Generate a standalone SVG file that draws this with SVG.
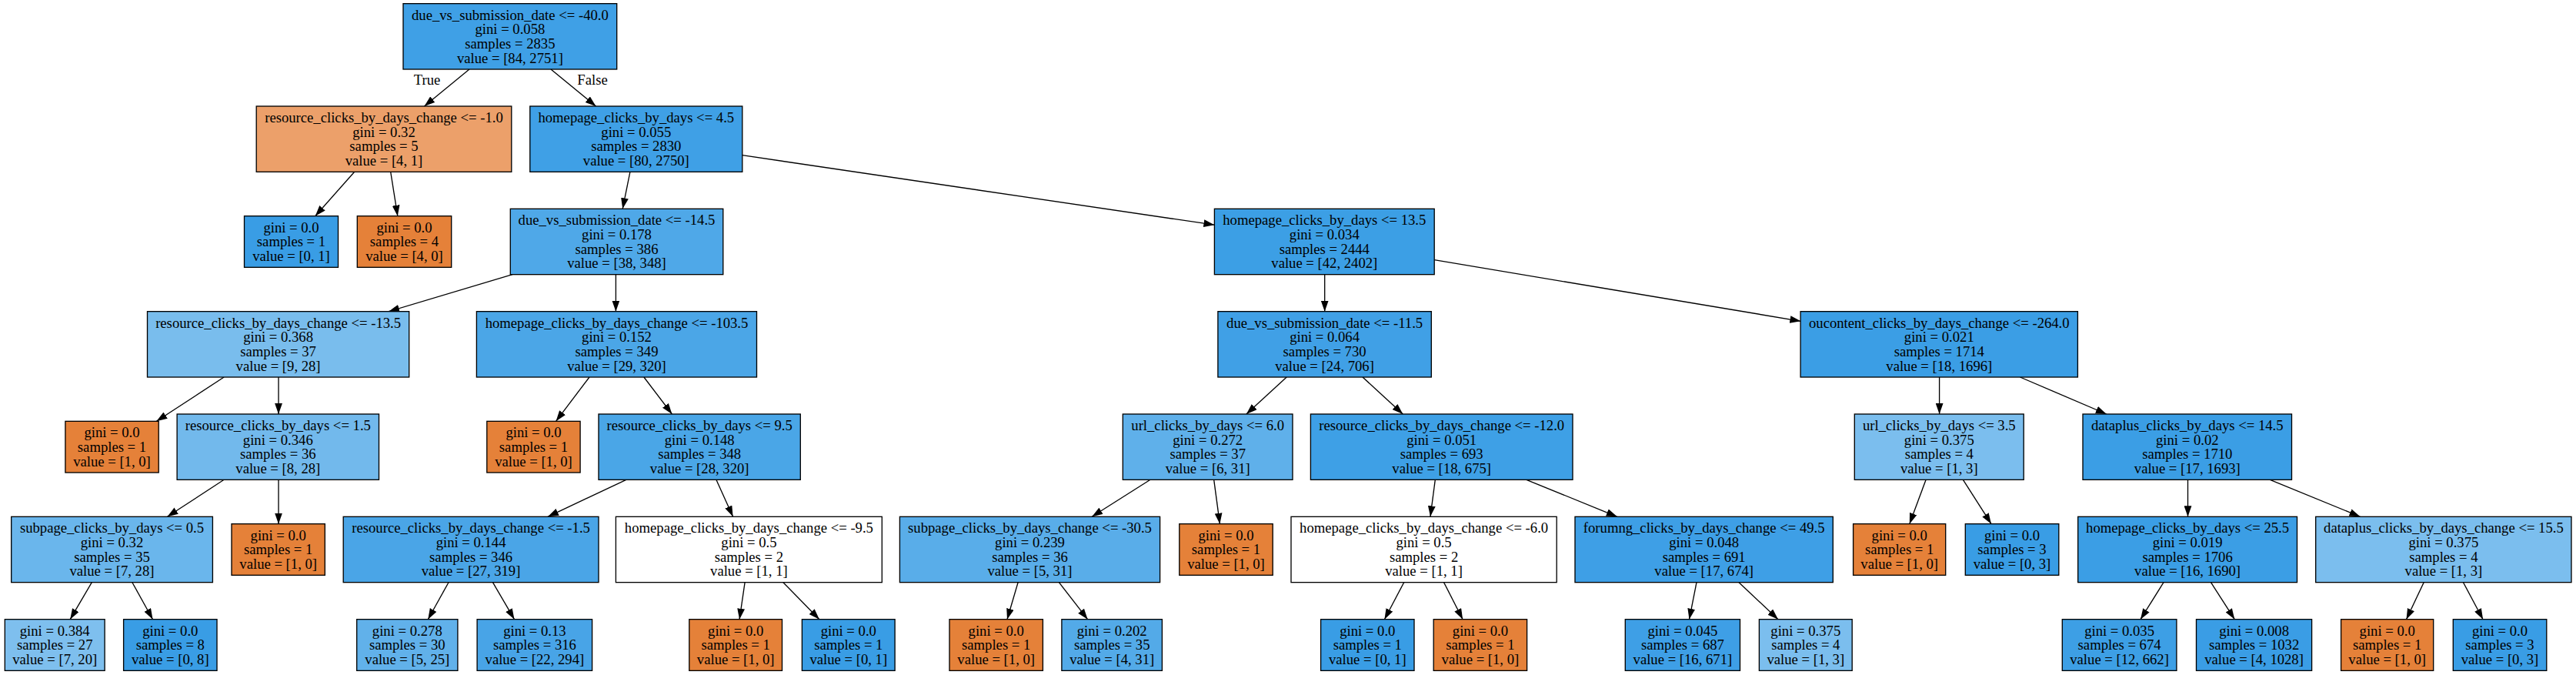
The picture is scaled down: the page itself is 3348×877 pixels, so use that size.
<svg xmlns="http://www.w3.org/2000/svg" width="3348" height="877" viewBox="0 0 3348 877">
<style>
rect.b{stroke:#000;stroke-width:1.33}
text{font-family:"Liberation Serif","Times New Roman",serif;font-size:18.67px;text-anchor:middle;fill:#000}
line.e{stroke:#000;stroke-width:1.33;marker-end:url(#ah)}
</style>
<defs>
<marker id="ah" markerUnits="userSpaceOnUse" markerWidth="14" markerHeight="10" viewBox="0 0 13.3 9.33" refX="13.3" refY="4.67" orient="auto"><path d="M0,0 L13.3,4.67 L0,9.33 z" fill="#000"/></marker>
</defs>
<rect width="3348" height="877" fill="#fff"/>
<g id="edges">
<line class="e" x1="610" y1="90" x2="551.5" y2="138"/>
<line class="e" x1="716" y1="90" x2="774.5" y2="138"/>
<line class="e" x1="460.7" y1="223.3" x2="409.7" y2="280.7"/>
<line class="e" x1="507.7" y1="223.3" x2="516.8" y2="280.7"/>
<line class="e" x1="818.9" y1="223.3" x2="809.2" y2="271.3"/>
<line class="e" x1="964.8" y1="201.7" x2="1578.4" y2="292.2"/>
<line class="e" x1="666" y1="356.7" x2="505.1" y2="404.7"/>
<line class="e" x1="800.4" y1="356.7" x2="800.4" y2="404.7"/>
<line class="e" x1="1721.7" y1="356.7" x2="1721.7" y2="404.7"/>
<line class="e" x1="1864.2" y1="337.7" x2="2340.4" y2="417.3"/>
<line class="e" x1="291.1" y1="490" x2="203.4" y2="547.3"/>
<line class="e" x1="362" y1="490" x2="362" y2="538"/>
<line class="e" x1="766" y1="490" x2="722.6" y2="547.3"/>
<line class="e" x1="836.9" y1="490" x2="873.4" y2="538"/>
<line class="e" x1="1672.2" y1="490" x2="1619.9" y2="538"/>
<line class="e" x1="1771" y1="490" x2="1823.3" y2="538"/>
<line class="e" x1="2520.6" y1="490" x2="2520.6" y2="538"/>
<line class="e" x1="2625.5" y1="490" x2="2737.8" y2="538"/>
<line class="e" x1="291.1" y1="623.3" x2="217.5" y2="671.3"/>
<line class="e" x1="362" y1="623.3" x2="362" y2="680.7"/>
<line class="e" x1="813.8" y1="623.3" x2="712" y2="671.3"/>
<line class="e" x1="930.9" y1="623.3" x2="952.6" y2="671.3"/>
<line class="e" x1="1495" y1="623.3" x2="1419.2" y2="671.3"/>
<line class="e" x1="1577.7" y1="623.3" x2="1585.4" y2="680.7"/>
<line class="e" x1="1865.3" y1="623.3" x2="1859" y2="671.3"/>
<line class="e" x1="1983.9" y1="623.3" x2="2101.8" y2="671.3"/>
<line class="e" x1="2503.1" y1="623.3" x2="2481.8" y2="680.7"/>
<line class="e" x1="2551.4" y1="623.3" x2="2588" y2="680.7"/>
<line class="e" x1="2843.5" y1="623.3" x2="2843.5" y2="671.3"/>
<line class="e" x1="2950.4" y1="623.3" x2="3067.5" y2="671.3"/>
<line class="e" x1="119.3" y1="756.7" x2="91.2" y2="804.7"/>
<line class="e" x1="171.9" y1="756.7" x2="198.5" y2="804.7"/>
<line class="e" x1="583" y1="756.7" x2="556.3" y2="804.7"/>
<line class="e" x1="640.5" y1="756.7" x2="668.5" y2="804.7"/>
<line class="e" x1="968.1" y1="756.7" x2="961.1" y2="804.7"/>
<line class="e" x1="1017.9" y1="756.7" x2="1064.9" y2="804.7"/>
<line class="e" x1="1323.1" y1="756.7" x2="1309" y2="804.7"/>
<line class="e" x1="1376.4" y1="756.7" x2="1413.6" y2="804.7"/>
<line class="e" x1="1824.7" y1="756.7" x2="1799.4" y2="804.7"/>
<line class="e" x1="1876.6" y1="756.7" x2="1901.1" y2="804.7"/>
<line class="e" x1="2205" y1="756.7" x2="2195.5" y2="804.7"/>
<line class="e" x1="2260" y1="756.7" x2="2311" y2="804.7"/>
<line class="e" x1="2812" y1="756.7" x2="2782" y2="804.7"/>
<line class="e" x1="2873.5" y1="756.7" x2="2904.3" y2="804.7"/>
<line class="e" x1="3150.2" y1="756.7" x2="3127.5" y2="804.7"/>
<line class="e" x1="3201.5" y1="756.7" x2="3227.1" y2="804.7"/>
<text x="555" y="110">True</text>
<text x="770" y="110">False</text>
</g>
<g id="n0"><rect class="b" x="524" y="4.67" width="277.7" height="85.33" fill="#3fa0e6"/><text x="662.9" y="25.67">due_vs_submission_date &lt;= -40.0</text><text x="662.9" y="44.33">gini = 0.058</text><text x="662.9" y="63">samples = 2835</text><text x="662.9" y="81.67">value = [84, 2751]</text></g>
<g id="n1"><rect class="b" x="333.2" y="138" width="331.6" height="85.33" fill="#eca06a"/><text x="499" y="159">resource_clicks_by_days_change &lt;= -1.0</text><text x="499" y="177.67">gini = 0.32</text><text x="499" y="196.33">samples = 5</text><text x="499" y="215">value = [4, 1]</text></g>
<g id="n4"><rect class="b" x="688.8" y="138" width="276" height="85.33" fill="#3fa0e6"/><text x="826.8" y="159">homepage_clicks_by_days &lt;= 4.5</text><text x="826.8" y="177.67">gini = 0.055</text><text x="826.8" y="196.33">samples = 2830</text><text x="826.8" y="215">value = [80, 2750]</text></g>
<g id="n2"><rect class="b" x="317.5" y="280.67" width="122" height="66.67" fill="#399de5"/><text x="378.5" y="301.67">gini = 0.0</text><text x="378.5" y="320.33">samples = 1</text><text x="378.5" y="339">value = [0, 1]</text></g>
<g id="n3"><rect class="b" x="464.3" y="280.67" width="122.4" height="66.67" fill="#e58139"/><text x="525.5" y="301.67">gini = 0.0</text><text x="525.5" y="320.33">samples = 4</text><text x="525.5" y="339">value = [4, 0]</text></g>
<g id="n5"><rect class="b" x="663.3" y="271.33" width="276.5" height="85.33" fill="#4fa8e8"/><text x="801.5" y="292.33">due_vs_submission_date &lt;= -14.5</text><text x="801.5" y="311">gini = 0.178</text><text x="801.5" y="329.67">samples = 386</text><text x="801.5" y="348.33">value = [38, 348]</text></g>
<g id="n6"><rect class="b" x="1578.4" y="271.33" width="285.8" height="85.33" fill="#3c9fe5"/><text x="1721.3" y="292.33">homepage_clicks_by_days &lt;= 13.5</text><text x="1721.3" y="311">gini = 0.034</text><text x="1721.3" y="329.67">samples = 2444</text><text x="1721.3" y="348.33">value = [42, 2402]</text></g>
<g id="n7"><rect class="b" x="191.5" y="404.67" width="340.2" height="85.33" fill="#79bded"/><text x="361.6" y="425.67">resource_clicks_by_days_change &lt;= -13.5</text><text x="361.6" y="444.33">gini = 0.368</text><text x="361.6" y="463">samples = 37</text><text x="361.6" y="481.67">value = [9, 28]</text></g>
<g id="n8"><rect class="b" x="619.4" y="404.67" width="364.1" height="85.33" fill="#4ba6e7"/><text x="801.5" y="425.67">homepage_clicks_by_days_change &lt;= -103.5</text><text x="801.5" y="444.33">gini = 0.152</text><text x="801.5" y="463">samples = 349</text><text x="801.5" y="481.67">value = [29, 320]</text></g>
<g id="n9"><rect class="b" x="1582.9" y="404.67" width="277.4" height="85.33" fill="#40a0e6"/><text x="1721.6" y="425.67">due_vs_submission_date &lt;= -11.5</text><text x="1721.6" y="444.33">gini = 0.064</text><text x="1721.6" y="463">samples = 730</text><text x="1721.6" y="481.67">value = [24, 706]</text></g>
<g id="n10"><rect class="b" x="2340.1" y="404.67" width="360.3" height="85.33" fill="#3b9ee5"/><text x="2520.3" y="425.67">oucontent_clicks_by_days_change &lt;= -264.0</text><text x="2520.3" y="444.33">gini = 0.021</text><text x="2520.3" y="463">samples = 1714</text><text x="2520.3" y="481.67">value = [18, 1696]</text></g>
<g id="n11"><rect class="b" x="84.9" y="547.33" width="121.3" height="66.67" fill="#e58139"/><text x="145.5" y="568.33">gini = 0.0</text><text x="145.5" y="587">samples = 1</text><text x="145.5" y="605.67">value = [1, 0]</text></g>
<g id="n12"><rect class="b" x="230.1" y="538" width="262.4" height="85.33" fill="#72b9ec"/><text x="361.3" y="559">resource_clicks_by_days &lt;= 1.5</text><text x="361.3" y="577.67">gini = 0.346</text><text x="361.3" y="596.33">samples = 36</text><text x="361.3" y="615">value = [8, 28]</text></g>
<g id="n13"><rect class="b" x="632.8" y="547.33" width="121.3" height="66.67" fill="#e58139"/><text x="693.5" y="568.33">gini = 0.0</text><text x="693.5" y="587">samples = 1</text><text x="693.5" y="605.67">value = [1, 0]</text></g>
<g id="n14"><rect class="b" x="778" y="538" width="262.3" height="85.33" fill="#4aa6e7"/><text x="909.2" y="559">resource_clicks_by_days &lt;= 9.5</text><text x="909.2" y="577.67">gini = 0.148</text><text x="909.2" y="596.33">samples = 348</text><text x="909.2" y="615">value = [28, 320]</text></g>
<g id="n15"><rect class="b" x="1459.3" y="538" width="220.7" height="85.33" fill="#5fb0ea"/><text x="1569.7" y="559">url_clicks_by_days &lt;= 6.0</text><text x="1569.7" y="577.67">gini = 0.272</text><text x="1569.7" y="596.33">samples = 37</text><text x="1569.7" y="615">value = [6, 31]</text></g>
<g id="n16"><rect class="b" x="1703.4" y="538" width="340.6" height="85.33" fill="#3ea0e6"/><text x="1873.7" y="559">resource_clicks_by_days_change &lt;= -12.0</text><text x="1873.7" y="577.67">gini = 0.051</text><text x="1873.7" y="596.33">samples = 693</text><text x="1873.7" y="615">value = [18, 675]</text></g>
<g id="n17"><rect class="b" x="2410.3" y="538" width="219.9" height="85.33" fill="#7bbeee"/><text x="2520.3" y="559">url_clicks_by_days &lt;= 3.5</text><text x="2520.3" y="577.67">gini = 0.375</text><text x="2520.3" y="596.33">samples = 4</text><text x="2520.3" y="615">value = [1, 3]</text></g>
<g id="n18"><rect class="b" x="2707" y="538" width="271.5" height="85.33" fill="#3b9ee5"/><text x="2842.8" y="559">dataplus_clicks_by_days &lt;= 14.5</text><text x="2842.8" y="577.67">gini = 0.02</text><text x="2842.8" y="596.33">samples = 1710</text><text x="2842.8" y="615">value = [17, 1693]</text></g>
<g id="n19"><rect class="b" x="14.7" y="671.33" width="261.7" height="85.33" fill="#6ab6ec"/><text x="145.5" y="692.33">subpage_clicks_by_days &lt;= 0.5</text><text x="145.5" y="711">gini = 0.32</text><text x="145.5" y="729.67">samples = 35</text><text x="145.5" y="748.33">value = [7, 28]</text></g>
<g id="n20"><rect class="b" x="301" y="680.67" width="121.3" height="66.67" fill="#e58139"/><text x="361.7" y="701.67">gini = 0.0</text><text x="361.7" y="720.33">samples = 1</text><text x="361.7" y="739">value = [1, 0]</text></g>
<g id="n21"><rect class="b" x="446.2" y="671.33" width="331.8" height="85.33" fill="#4aa5e7"/><text x="612.1" y="692.33">resource_clicks_by_days_change &lt;= -1.5</text><text x="612.1" y="711">gini = 0.144</text><text x="612.1" y="729.67">samples = 346</text><text x="612.1" y="748.33">value = [27, 319]</text></g>
<g id="n22"><rect class="b" x="800.4" y="671.33" width="345.9" height="85.33" fill="#ffffff"/><text x="973.4" y="692.33">homepage_clicks_by_days_change &lt;= -9.5</text><text x="973.4" y="711">gini = 0.5</text><text x="973.4" y="729.67">samples = 2</text><text x="973.4" y="748.33">value = [1, 1]</text></g>
<g id="n23"><rect class="b" x="1169.4" y="671.33" width="338.2" height="85.33" fill="#59ade9"/><text x="1338.5" y="692.33">subpage_clicks_by_days_change &lt;= -30.5</text><text x="1338.5" y="711">gini = 0.239</text><text x="1338.5" y="729.67">samples = 36</text><text x="1338.5" y="748.33">value = [5, 31]</text></g>
<g id="n24"><rect class="b" x="1532.8" y="680.67" width="121.4" height="66.67" fill="#e58139"/><text x="1593.5" y="701.67">gini = 0.0</text><text x="1593.5" y="720.33">samples = 1</text><text x="1593.5" y="739">value = [1, 0]</text></g>
<g id="n25"><rect class="b" x="1678" y="671.33" width="345.2" height="85.33" fill="#ffffff"/><text x="1850.6" y="692.33">homepage_clicks_by_days_change &lt;= -6.0</text><text x="1850.6" y="711">gini = 0.5</text><text x="1850.6" y="729.67">samples = 2</text><text x="1850.6" y="748.33">value = [1, 1]</text></g>
<g id="n26"><rect class="b" x="2047" y="671.33" width="335.3" height="85.33" fill="#3e9fe6"/><text x="2214.7" y="692.33">forumng_clicks_by_days_change &lt;= 49.5</text><text x="2214.7" y="711">gini = 0.048</text><text x="2214.7" y="729.67">samples = 691</text><text x="2214.7" y="748.33">value = [17, 674]</text></g>
<g id="n27"><rect class="b" x="2408.6" y="680.67" width="120.1" height="66.67" fill="#e58139"/><text x="2468.7" y="701.67">gini = 0.0</text><text x="2468.7" y="720.33">samples = 1</text><text x="2468.7" y="739">value = [1, 0]</text></g>
<g id="n28"><rect class="b" x="2554.3" y="680.67" width="121.5" height="66.67" fill="#399de5"/><text x="2615" y="701.67">gini = 0.0</text><text x="2615" y="720.33">samples = 3</text><text x="2615" y="739">value = [0, 3]</text></g>
<g id="n29"><rect class="b" x="2700.7" y="671.33" width="284.8" height="85.33" fill="#3b9ee5"/><text x="2843.1" y="692.33">homepage_clicks_by_days &lt;= 25.5</text><text x="2843.1" y="711">gini = 0.019</text><text x="2843.1" y="729.67">samples = 1706</text><text x="2843.1" y="748.33">value = [16, 1690]</text></g>
<g id="n30"><rect class="b" x="3009.7" y="671.33" width="332.3" height="85.33" fill="#7bbeee"/><text x="3175.9" y="692.33">dataplus_clicks_by_days_change &lt;= 15.5</text><text x="3175.9" y="711">gini = 0.375</text><text x="3175.9" y="729.67">samples = 4</text><text x="3175.9" y="748.33">value = [1, 3]</text></g>
<g id="n31"><rect class="b" x="6.3" y="804.67" width="129.8" height="66.67" fill="#7ebfee"/><text x="71.2" y="825.67">gini = 0.384</text><text x="71.2" y="844.33">samples = 27</text><text x="71.2" y="863">value = [7, 20]</text></g>
<g id="n32"><rect class="b" x="160.6" y="804.67" width="121.4" height="66.67" fill="#399de5"/><text x="221.3" y="825.67">gini = 0.0</text><text x="221.3" y="844.33">samples = 8</text><text x="221.3" y="863">value = [0, 8]</text></g>
<g id="n33"><rect class="b" x="463.7" y="804.67" width="131.2" height="66.67" fill="#61b1ea"/><text x="529.3" y="825.67">gini = 0.278</text><text x="529.3" y="844.33">samples = 30</text><text x="529.3" y="863">value = [5, 25]</text></g>
<g id="n34"><rect class="b" x="620.1" y="804.67" width="149.5" height="66.67" fill="#48a4e7"/><text x="694.9" y="825.67">gini = 0.13</text><text x="694.9" y="844.33">samples = 316</text><text x="694.9" y="863">value = [22, 294]</text></g>
<g id="n35"><rect class="b" x="895.8" y="804.67" width="120.7" height="66.67" fill="#e58139"/><text x="956.2" y="825.67">gini = 0.0</text><text x="956.2" y="844.33">samples = 1</text><text x="956.2" y="863">value = [1, 0]</text></g>
<g id="n36"><rect class="b" x="1042.4" y="804.67" width="120.7" height="66.67" fill="#399de5"/><text x="1102.8" y="825.67">gini = 0.0</text><text x="1102.8" y="844.33">samples = 1</text><text x="1102.8" y="863">value = [0, 1]</text></g>
<g id="n37"><rect class="b" x="1234" y="804.67" width="121.4" height="66.67" fill="#e58139"/><text x="1294.7" y="825.67">gini = 0.0</text><text x="1294.7" y="844.33">samples = 1</text><text x="1294.7" y="863">value = [1, 0]</text></g>
<g id="n38"><rect class="b" x="1379.9" y="804.67" width="130.5" height="66.67" fill="#53aae8"/><text x="1445.2" y="825.67">gini = 0.202</text><text x="1445.2" y="844.33">samples = 35</text><text x="1445.2" y="863">value = [4, 31]</text></g>
<g id="n39"><rect class="b" x="1716.6" y="804.67" width="121.4" height="66.67" fill="#399de5"/><text x="1777.3" y="825.67">gini = 0.0</text><text x="1777.3" y="844.33">samples = 1</text><text x="1777.3" y="863">value = [0, 1]</text></g>
<g id="n40"><rect class="b" x="1863.2" y="804.67" width="121.4" height="66.67" fill="#e58139"/><text x="1923.9" y="825.67">gini = 0.0</text><text x="1923.9" y="844.33">samples = 1</text><text x="1923.9" y="863">value = [1, 0]</text></g>
<g id="n41"><rect class="b" x="2112.3" y="804.67" width="149.2" height="66.67" fill="#3e9fe6"/><text x="2186.9" y="825.67">gini = 0.045</text><text x="2186.9" y="844.33">samples = 687</text><text x="2186.9" y="863">value = [16, 671]</text></g>
<g id="n42"><rect class="b" x="2286.4" y="804.67" width="120.8" height="66.67" fill="#7bbeee"/><text x="2346.8" y="825.67">gini = 0.375</text><text x="2346.8" y="844.33">samples = 4</text><text x="2346.8" y="863">value = [1, 3]</text></g>
<g id="n43"><rect class="b" x="2680.3" y="804.67" width="148.6" height="66.67" fill="#3d9fe5"/><text x="2754.6" y="825.67">gini = 0.035</text><text x="2754.6" y="844.33">samples = 674</text><text x="2754.6" y="863">value = [12, 662]</text></g>
<g id="n44"><rect class="b" x="2854.5" y="804.67" width="150.1" height="66.67" fill="#3a9de5"/><text x="2929.6" y="825.67">gini = 0.008</text><text x="2929.6" y="844.33">samples = 1032</text><text x="2929.6" y="863">value = [4, 1028]</text></g>
<g id="n45"><rect class="b" x="3042.6" y="804.67" width="120.1" height="66.67" fill="#e58139"/><text x="3102.7" y="825.67">gini = 0.0</text><text x="3102.7" y="844.33">samples = 1</text><text x="3102.7" y="863">value = [1, 0]</text></g>
<g id="n46"><rect class="b" x="3188.3" y="804.67" width="121.5" height="66.67" fill="#399de5"/><text x="3249" y="825.67">gini = 0.0</text><text x="3249" y="844.33">samples = 3</text><text x="3249" y="863">value = [0, 3]</text></g>
</svg>
